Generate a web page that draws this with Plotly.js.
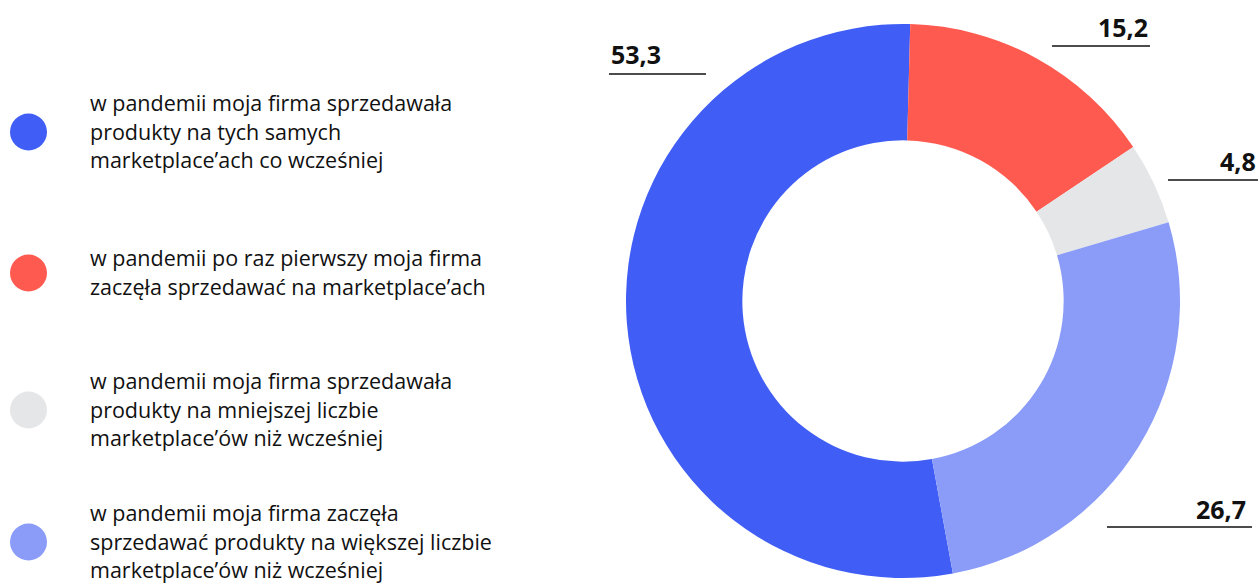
<!DOCTYPE html>
<html>
<head>
<meta charset="utf-8">
<script src="https://cdn.plot.ly/plotly-3.0.1.min.js"></script>
<style>
  html, body { margin: 0; padding: 0; background: #fff; }
  #chart { width: 1258px; height: 585px; }
</style>
</head>
<body>
<div id="chart"></div>
<script>
// data
const categories = [
    "w pandemii moja firma sprzedawała<br>produkty na tych samych<br>marketplace’ach co wcześniej",
    "w pandemii po raz pierwszy moja firma<br>zaczęła sprzedawać na marketplace’ach",
    "w pandemii moja firma sprzedawała<br>produkty na mniejszej liczbie<br>marketplace’ów niż wcześniej",
    "w pandemii moja firma zaczęła<br>sprzedawać produkty na większej liczbie<br>marketplace’ów niż wcześniej"
];
const values = [53.3, 15.2, 4.8, 26.7];
const colors = ["#405ef5", "#ff5a50", "#e5e6e8", "#8a9cf8"];

// page size in px, helpers to go px -> paper
const W = 1258, H = 585;
const px = x => x / W;
const py = y => 1 - y / H;

// pie geometry
const cx = 903, cy = 301, r = 277;

// start angle: blue starts after the other slices (clockwise from 12 o'clock)
const restSum = values.slice(1).reduce((a, b) => a + b, 0);
const total = values.reduce((a, b) => a + b, 0);
const rotation = 1.5 + 360 * restSum / total;

const trace = {
    type: "pie",
    values: values,
    labels: categories,
    marker: { colors: colors, line: { width: 0 } },
    hole: 0.58,
    sort: false,
    direction: "clockwise",
    rotation: rotation,
    textinfo: "none",
    hoverinfo: "none",
    showlegend: false,
    domain: { x: [px(cx - r), px(cx + r)], y: [py(cy + r), py(cy - r)] }
};

// value labels (text pos + underline), order same as values
const labelPos = [
    { x: 609, y: 54, anchor: "left", lx0: 609, lx1: 706, ly: 74 },
    { x: 1150, y: 27, anchor: "right", lx0: 1052, lx1: 1150, ly: 46 },
    { x: 1258, y: 161, anchor: "right", lx0: 1168, lx1: 1258, ly: 180 },
    { x: 1248, y: 509, anchor: "right", lx0: 1107, lx1: 1252, ly: 527 }
];

// legend rows
const legendY = [132, 273, 410, 542];

let annotations = [];
let shapes = [];

values.forEach((v, i) => {
    let p = labelPos[i];
    annotations.push({
        xref: "paper", yref: "paper",
        x: px(p.x), y: py(p.y),
        xanchor: p.anchor, yanchor: "middle",
        text: v.toFixed(1).replace(".", ","),
        showarrow: false,
        font: { family: "Open Sans", size: 25, color: "#111", weight: 700 }
    });
    shapes.push({
        type: "line", xref: "paper", yref: "paper",
        x0: px(p.lx0), x1: px(p.lx1), y0: py(p.ly), y1: py(p.ly),
        line: { color: "#111", width: 1.5 }
    });
});

categories.forEach((c, i) => {
    let cyL = legendY[i];
    shapes.push({
        type: "circle", xref: "paper", yref: "paper",
        x0: px(10), x1: px(47), y0: py(cyL + 18.5), y1: py(cyL - 18.5),
        fillcolor: colors[i], line: { width: 0 }
    });
    let lines = c.split("<br>");
    let lineH = 28.5;
    let top = cyL - (lines.length - 1) * lineH / 2 - 1;
    lines.forEach((t, j) => {
        annotations.push({
            xref: "paper", yref: "paper",
            x: px(88), y: py(top + j * lineH),
            xanchor: "left", yanchor: "middle",
            text: t,
            showarrow: false,
            font: { family: "Open Sans", size: 21.5, color: "#111" }
        });
    });
});

const layout = {
    width: W,
    height: H,
    margin: { l: 0, r: 0, t: 0, b: 0 },
    paper_bgcolor: "#fff",
    showlegend: false,
    annotations: annotations,
    shapes: shapes
};

Plotly.newPlot("chart", [trace], layout, { displayModeBar: false, staticPlot: true });
</script>
</body>
</html>
